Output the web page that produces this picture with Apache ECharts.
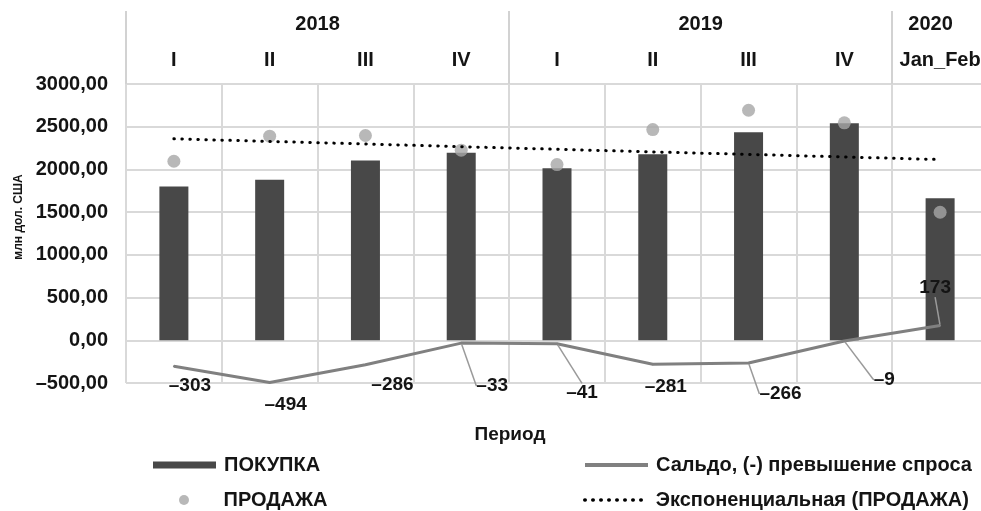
<!DOCTYPE html>
<html><head><meta charset="utf-8">
<script src="https://cdn.jsdelivr.net/npm/echarts@6/dist/echarts.min.js"></script>
<style>html,body{margin:0;padding:0;background:#fff}#c{width:981px;height:511px}</style>
</head><body><div id="c"></div>
<script>
// ---- data ----
const quarters = ['I', 'II', 'III', 'IV', 'I', 'II', 'III', 'IV', 'Jan_Feb'];
const years = ['2018', '2019', '2020'];
const yearCenters = [2, 6, 8.4];      // positions of year labels on the 0..9 category span
const yearBounds = [0, 4, 8];          // year group separators
const purchase = [1800, 1878, 2104, 2194, 2014, 2178, 2436, 2541, 1663];   // ПОКУПКА
const sale = [2096, 2389, 2397, 2225, 2057, 2467, 2693, 2546, 1499];       // ПРОДАЖА
const saldo = [-303, -494, -286, -33, -41, -281, -266, -9, 173];          // Сальдо
const trend = [2358, 2328, 2298, 2266, 2236, 2205, 2176, 2146, 2116];     // Экспоненциальная (ПРОДАЖА)
const yTicks = { min: -500, max: 3000, step: 500 };

const names = ['ПОКУПКА', 'ПРОДАЖА', 'Сальдо, (-) превышение спроса', 'Экспоненциальная (ПРОДАЖА)'];

// label style helpers (not data)
const labelShift = [[16,20],[16,22],[27,20],[31,43],[25,49],[13,22],[32,31],[40,39],[-5,-38]];
const leader = [false,false,false,true,true,false,true,true,true];

const FONT = "'Liberation Sans', Arial, sans-serif";
const TXT = '#141414';
const GRID = '#d9d9d9';
const fmtNum = v => (v < 0 ? '–' : '') + Math.abs(v);

const chart = echarts.init(document.getElementById('c'), null, { renderer: 'canvas' });

const legendText = { fontFamily: FONT, fontWeight: 'bold', fontSize: 20, color: TXT, padding: [0, 0, 0, 3] };

chart.setOption({
  animation: false,
  backgroundColor: '#fff',
  grid: { left: 126, top: 84, width: 862, height: 299, containLabel: false, outerBoundsMode: 'none' },
  legend: [
    { left: 153, top: 455, padding: 0, selectedMode: false, itemWidth: 63, itemHeight: 7,
      data: [{ name: names[0], icon: 'rect' }], textStyle: legendText },
    { left: 179, top: 490, padding: 0, selectedMode: false, itemWidth: 63, itemHeight: 10,
      data: [{ name: names[1], icon: 'circle' }], textStyle: legendText },
    { left: 583, top: 455, padding: 0, selectedMode: false, itemWidth: 63, itemHeight: 8,
      data: [{ name: names[2], itemStyle: { opacity: 0 }, lineStyle: { width: 4, color: '#808080' } }], textStyle: legendText },
    { left: 583, top: 490, padding: 0, selectedMode: false, itemWidth: 63, itemHeight: 8,
      data: [{ name: names[3], itemStyle: { opacity: 0 }, lineStyle: { width: 3.5, color: '#000', type: [0.5, 7.5], cap: 'round' } }], textStyle: legendText }
  ],
  xAxis: [
    {
      type: 'category', position: 'top', data: quarters, boundaryGap: true,
      axisLine: { show: false }, axisTick: { show: false },
      axisLabel: { interval: 0, margin: 14, fontFamily: FONT, fontWeight: 'bold', fontSize: 20, color: TXT },
      splitLine: { show: true, interval: 0, lineStyle: { color: GRID, width: 2 } }
    },
    {
      type: 'value', position: 'top', min: 0, max: 9,
      axisLine: { show: false }, splitLine: { show: false },
      axisTick: { show: true, customValues: yearBounds, length: 73, lineStyle: { color: '#d2d2d2', width: 2 } },
      axisLabel: {
        customValues: yearCenters, margin: 50,
        formatter: v => { const i = yearCenters.indexOf(v); return i >= 0 ? years[i] : ''; },
        fontFamily: FONT, fontWeight: 'bold', fontSize: 20, color: TXT
      }
    },
    {
      type: 'category', position: 'bottom', data: quarters,
      axisLine: { show: false }, axisTick: { show: false }, axisLabel: { show: false },
      name: 'Период', nameLocation: 'middle', nameGap: 42,
      nameTextStyle: { fontFamily: FONT, fontWeight: 'bold', fontSize: 19, color: TXT, padding: [0, 94, 0, 0] }
    }
  ],
  yAxis: {
    type: 'value', min: yTicks.min, max: yTicks.max, interval: yTicks.step,
    axisLine: { show: false }, axisTick: { show: false },
    axisLabel: {
      margin: 18, fontFamily: FONT, fontWeight: 'bold', fontSize: 20, color: TXT,
      formatter: v => (v < 0 ? '–' : '') + Math.abs(v).toFixed(2).replace('.', ',')
    },
    splitLine: { lineStyle: { color: GRID, width: 2 } },
    name: 'млн дол. США', nameLocation: 'middle', nameGap: 101, nameRotate: 90,
    nameTextStyle: { fontFamily: FONT, fontWeight: 'bold', fontSize: 12, color: TXT, padding: [0, 0, 0, 33] }
  },
  series: [
    {
      name: names[0], type: 'bar', xAxisIndex: 0, data: purchase, barWidth: 29,
      itemStyle: { color: '#484848' }, z: 2
    },
    {
      name: names[1], type: 'scatter', xAxisIndex: 0, data: sale, symbol: 'circle', symbolSize: 13,
      itemStyle: { color: '#a6a6a6' }, z: 3
    },
    {
      name: names[2], type: 'line', xAxisIndex: 0, data: saldo.map((v, i) => ({
        value: v, labelLine: { show: leader[i] }
      })),
      symbol: 'circle', symbolSize: 2, showSymbol: true,
      itemStyle: { color: '#808080' },
      lineStyle: { color: '#808080', width: 3 },
      label: {
        show: true, position: 'inside', formatter: p => fmtNum(p.value),
        fontFamily: FONT, fontWeight: 'bold', fontSize: 19, color: TXT
      },
      labelLayout: p => ({ dx: labelShift[p.dataIndex][0], dy: labelShift[p.dataIndex][1] }),
      labelLine: { show: false, lineStyle: { color: '#9a9a9a', width: 1.5 } },
      z: 4
    },
    {
      name: names[3], type: 'line', xAxisIndex: 0, data: trend, symbol: 'none',
      itemStyle: { color: '#000' },
      lineStyle: { color: '#000', width: 3, type: [0.5, 7.5], cap: 'round' },
      z: 5
    }
  ]
});
</script>
</body></html>
